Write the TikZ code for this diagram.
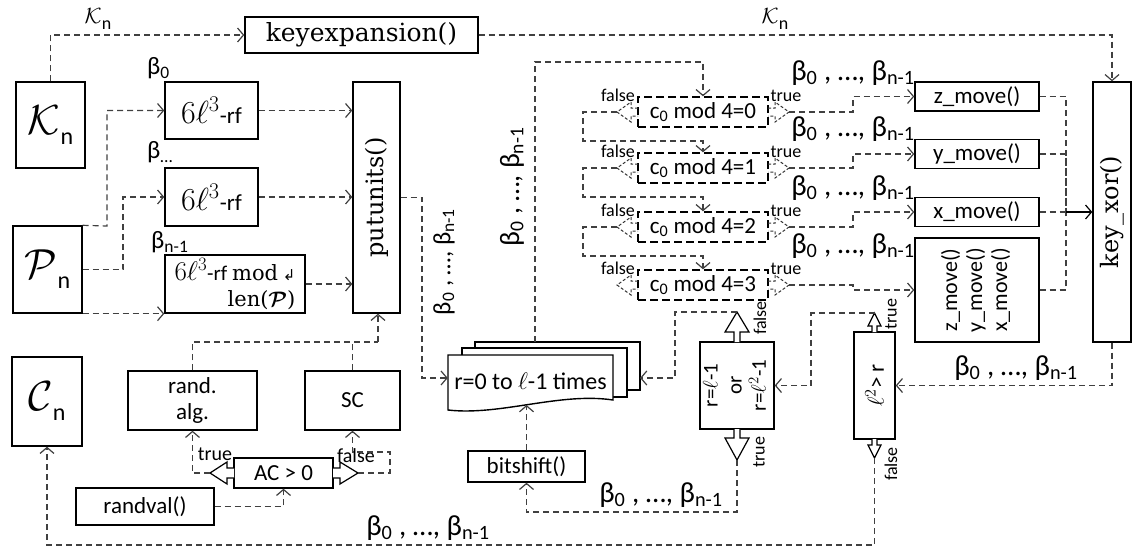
\RequirePackage{fix-cm}
\documentclass[tikz,border=0pt]{standalone}
\usepackage{amsmath}
\usepackage{fontspec}
\setmainfont{Carlito}
\newfontfamily\cambriafont{DejaVu Serif}
\newfontfamily\arrowfont{DejaVu Sans}
\usetikzlibrary{arrows.meta, calc}

\newcommand{\fsz}[1]{\fontsize{#1}{#1}\selectfont}
\newcommand{\betalist}{β\textsubscript{0} , …, β\textsubscript{n-1}}
\newcommand{\sixl}{{\fsz{32}$6\ell^{3}$}}

\begin{document}
\begin{tikzpicture}[
    x=1pt, y=-1pt,
    box/.style={draw, fill=white, line width=1.4pt, inner sep=0pt, align=center,
                font=\fontsize{23}{26}\selectfont},
    cbox/.style={box, dash pattern=on 8pt off 4pt, minimum width=130pt, minimum height=30pt},
    mbox/.style={box, minimum width=124pt, minimum height=29pt},
    flow/.style={line width=1.2pt, black!75, dash pattern=on 6pt off 4pt,
                 -{Straight Barb[length=6pt, width=14pt, line width=1.2pt]}},
    link/.style={line width=1.2pt, black!75, dash pattern=on 6pt off 4pt},
    cside/.style={line width=1pt, black!80, dash pattern=on 3pt off 2pt},
    hollow/.style={draw, fill=white, line width=1.2pt},
    lbl/.style={inner sep=0pt, font=\fsz{18}},
    seq/.style={inner sep=0pt, font=\fsz{29}},
]
    \useasboundingbox (0,0) rectangle (1134,551);

    % Inputs
    \node[box, minimum width=69pt, minimum height=86pt] (kn) at (50.5,125)
        {{\fsz{42}$\mathcal{K}$}\raisebox{-10pt}{\fsz{24}n}};
    \node[box, minimum width=69pt, minimum height=87pt] (pn) at (47.5,269.5)
        {{\fsz{42}$\mathcal{P}$}\raisebox{-10pt}{\fsz{24}n}};
    \node[box, minimum width=70pt, minimum height=89pt] (cn) at (47,401.5)
        {{\fsz{42}$\mathcal{C}$}\raisebox{-10pt}{\fsz{24}n}};

    % Key schedule
    \node[box, font=\cambriafont\fsz{25}, minimum width=233pt, minimum height=36pt] (kexp) at (361.5,35) {keyexpansion()};
    \node[box, font=\cambriafont\fsz{24}, minimum width=38pt, minimum height=260pt] (kx) at (1112,212) {\rotatebox{90}{key\_xor()}};

    % Round functions
    \node[box, minimum width=93pt, minimum height=57pt] (rf1) at (211.5,110.5) {\sixl-rf};
    \node[box, minimum width=93pt, minimum height=58pt] (rf2) at (211.5,197) {\sixl-rf};
    \node[box, minimum width=140pt, minimum height=58pt, align=right, font=\fontsize{21}{26}\selectfont] (rf3) at (235,284)
        {{\fsz{27}$6\ell^{3}$}-rf {\cambriafont mod} {\arrowfont\fsz{15}↲}\\{\cambriafont len($\boldsymbol{\mathcal{P}}$)}};
    \node[box, font=\cambriafont\fsz{24}, minimum width=47pt, minimum height=231pt] (put) at (376.5,197.5) {\rotatebox{90}{putunits()}};

    \node[anchor=west, inner sep=0pt, font=\fsz{25}] (bl0) at (147,68) {β\textsubscript{0}};
    \node[anchor=west, inner sep=0pt, font=\fsz{25}] (bl1) at (147,152) {β\textsubscript{…}};
    \node[anchor=west, inner sep=0pt, font=\fsz{25}] (bl2) at (151,242) {β\textsubscript{n-1}};

    % Selection of the unit order
    \node[box, minimum width=129pt, minimum height=59pt] (rand) at (192.5,400.5) {rand.\\alg.};
    \node[box, minimum width=95pt, minimum height=59pt] (sc) at (352.5,400.5) {SC};
    \node[box, minimum width=99pt, minimum height=30pt] (ac) at (283.5,473) {AC > 0};
    \node[box, minimum width=138pt, minimum height=37pt] (rv) at (145,506.5) {randval()};
    \draw[hollow] (234,468) -- (227,468) -- (227,462) -- (210,473) -- (227,484) -- (227,478) -- (234,478);
    \draw[hollow] (333,468) -- (340,468) -- (340,462) -- (358,473) -- (340,484) -- (340,478) -- (333,478);
    \coordinate (acL) at (210,473);
    \coordinate (acR) at (358,473);
    \node[lbl, font=\fsz{20}] (actrue) at (215,454) {true};
    \node[lbl, font=\fsz{20}] (acfalse) at (356,456) {false};

    % Round loop
    \draw[fill=white, line width=1.4pt] (475,342) rectangle (640,390);
    \draw[fill=white, line width=1.4pt] (462,348) rectangle (627,397);
    \draw[fill=white, line width=1.4pt] (448,355) -- (613,355) -- (613,400)
        .. controls (560,392) and (500,416) .. (448,410) -- cycle;
    \node[inner sep=0pt, minimum width=165pt, minimum height=46pt, font=\fsz{24}] (loop) at (530.5,381) {r=0 to $\ell$-1 times};
    \coordinate (stacktop) at (535,342);
    \coordinate (loopback) at (640,378);
    \coordinate (loopbot) at (526.5,405);
    \node[box, minimum width=117pt, minimum height=31pt] (bits) at (526.5,466.5) {bitshift()};

    % Tests
    \node[box, minimum width=74pt, minimum height=87pt, font=\fontsize{21}{24}\selectfont] (req) at (737,385.5)
        {\rotatebox{90}{\begin{tabular}{@{}c@{}}r=$\ell$-1\\or\\r=$\ell^{2}$-1\end{tabular}}};
    \node[box, minimum width=41pt, minimum height=107pt] (lsq) at (874.5,385.5) {\rotatebox{90}{$\ell^{2}$> r}};
    \draw[hollow] (734,342) -- (734,332) -- (725,332) -- (737,312) -- (749,332) -- (740,332) -- (740,342);
    \draw[hollow] (734,429) -- (734,438) -- (725,438) -- (737,460) -- (749,438) -- (740,438) -- (740,429);
    \draw[hollow] (872,332) -- (872,326) -- (868,326) -- (874.5,313) -- (881,326) -- (877,326) -- (877,332);
    \draw[hollow] (872,439) -- (872,445) -- (868,445) -- (874.5,458) -- (881,445) -- (877,445) -- (877,439);
    \coordinate (reqF) at (737,312);
    \coordinate (reqT) at (737,460);
    \coordinate (lsqT) at (874.5,313);
    \coordinate (lsqF) at (874.5,458);
    \node[lbl, rotate=90] (reqfalse) at (760,318) {false};
    \node[lbl, rotate=90] (reqtrue) at (759,452) {true};
    \node[lbl, rotate=90] (lsqtrue) at (891,314) {true};
    \node[lbl, rotate=90] (lsqfalse) at (891,464) {false};

    % Moves
    \node[mbox] (zm) at (977,96.5) {z\_move()};
    \node[mbox] (ym) at (977,154) {y\_move()};
    \node[mbox] (xm) at (977,212) {x\_move()};
    \node[mbox, minimum height=104pt, font=\fontsize{22}{25}\selectfont] (xyz) at (977,290)
        {\rotatebox{90}{\begin{tabular}{@{}c@{}}z\_move()\\y\_move()\\x\_move()\end{tabular}}};
    \coordinate (merge) at (1066,212);

    % Case tests on c0
    \foreach \k/\y/\m in {0/112/zm, 1/168/ym, 2/227/xm, 3/285/xyz} {
        \node[cbox] (c\k) at (703,\y) {c\textsubscript{0} mod 4=\k};
        \draw[cside] (638,{\y-4}) -- (631,{\y-4}) -- (631,{\y-10}) -- (617,\y) -- (631,{\y+10}) -- (631,{\y+4}) -- (638,{\y+4});
        \draw[cside] (768,{\y-4}) -- (775,{\y-4}) -- (775,{\y-10}) -- (789,\y) -- (775,{\y+10}) -- (775,{\y+4}) -- (768,{\y+4});
        \coordinate (cl\k) at (617,\y);
        \coordinate (cr\k) at (789,\y);
        \node[lbl] (f\k) at (618,{\y-17}) {false};
        \node[lbl] (t\k) at (786,{\y-16}) {true};
        \node[seq] (bm\k) at (853,{\y-39}) {\betalist};
        \draw[flow] (cr\k) -- (853,\y) |- (\m.west);
    }
    \foreach \k/\n in {0/1, 1/2, 2/3}
        \draw[flow] (cl\k) -- ++(-34,0) -- ++(0,29) -| (c\n.north);

    % Connections
    \draw[flow] (kn.north) |- (kexp.west);
    \draw[flow] (kexp.east) -| (kx.north);
    \node[inner sep=0pt, font=\fsz{22}] (kl1) at (98,19) {$\mathcal{K}$\raisebox{-6pt}{\fsz{18}n}};
    \node[inner sep=0pt, font=\fsz{22}] (kl2) at (775,19) {$\mathcal{K}$\raisebox{-6pt}{\fsz{18}n}};

    \draw[flow] (pn.north east) -- (107,226) |- (rf1.west);
    \draw[flow] (pn.east) -- (123,269.5) |- (rf2.west);
    \draw[flow] (pn.south east) -- (rf3.south west);
    \draw[flow] (rf1.east) -- (rf1.east -| put.west);
    \draw[flow] (rf2.east) -- (rf2.east -| put.west);
    \draw[flow] (rf3.east) -- (rf3.east -| put.west);

    \coordinate (join) at (378,342);
    \draw[link] (rand.north) |- (join);
    \draw[link] (sc.north) -- (sc.north |- join);
    \draw[flow] (join) -- (join |- put.south);
    \draw[flow] (acL) -| (rand.south);
    \draw[flow] (acR) -- (390,473) -- (390,452) -| (sc.south);
    \draw[flow] (rv.east) -| (ac.south);

    \draw[flow] (put.east) -- (422,197.5) |- (loop.west |- loopback);
    \node[seq, font=\fsz{25}, rotate=90] (vb1) at (444,262) {\betalist};
    \draw[flow] (stacktop) -- (535,62) -| (c0.north);
    \node[seq, font=\fsz{28}, rotate=90] (vb2) at (512,187) {\betalist};

    \draw[link] (zm.east) -| (merge);
    \draw[link] (ym.east) -| (merge);
    \draw[link] (xyz.east) -| (merge);
    \draw[link] (xm.east) -- (merge);
    \draw[line width=1.2pt, -{Straight Barb[length=6pt, width=14pt, line width=1.2pt]}] (merge) -- (kx.west);

    \draw[flow] (kx.south) |- (lsq.east);
    \node[seq] (bk) at (1016,368) {\betalist};
    \draw[flow] (lsqT) -- (811,313) |- (req.east);
    \draw[flow] (lsqF) -- (874.5,545) -| (cn.south);
    \node[seq] (bc) at (428,528) {\betalist};
    \draw[flow] (reqF) -- (675,312) |- (loopback);
    \draw[flow] (reqT) -- (737,512) -| (bits.south);
    \node[seq] (bb) at (661,495) {\betalist};
    \draw[flow] (bits.north) -- (loopbot);
\end{tikzpicture}
\end{document}
